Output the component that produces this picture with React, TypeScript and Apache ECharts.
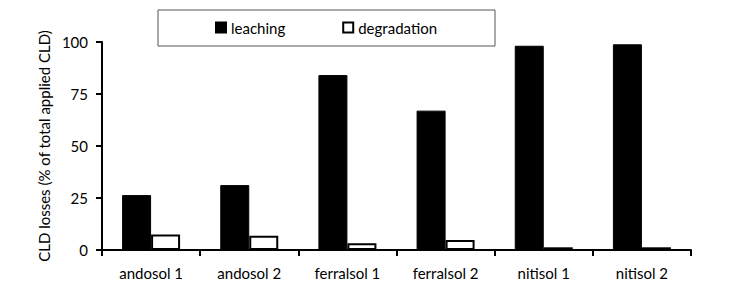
import React, { useEffect, useRef } from "react";
import * as echarts from "echarts";

const categories = ["andosol 1", "andosol 2", "ferralsol 1", "ferralsol 2", "nitisol 1", "nitisol 2"];
const leaching = [26.4, 31.2, 84.1, 67.0, 98.2, 98.9];
const degradation = [7.4, 6.9, 3.2, 4.8, 1.3, 1.3];
const yTicks = [0, 25, 50, 75, 100];

const FONT = "Lato, 'Open Sans', sans-serif";

export default function App() {
  const ref = useRef<HTMLDivElement>(null);
  useEffect(() => {
    if (!ref.current) return;
    const chart = echarts.init(ref.current, null, { renderer: "svg" });
    chart.setOption({
      animation: false,
      backgroundColor: "#ffffff",
      grid: { left: 102, right: 61, top: 42, bottom: 53 },
      legend: {
        left: 158,
        top: 10,
        padding: [10, 58, 11, 57],
        itemWidth: 10,
        itemHeight: 10,
        itemGap: 57,
        borderColor: "#555",
        borderWidth: 1,
        textStyle: { fontFamily: FONT, fontSize: 15, color: "#000" },
        data: [
          { name: "leaching", icon: "rect" },
          { name: "degradation", icon: "rect" },
        ],
      },
      xAxis: {
        type: "category",
        data: categories,
        boundaryGap: true,
        axisLine: { lineStyle: { color: "#000", width: 2 } },
        axisTick: { show: true, alignWithLabel: false, length: 6, lineStyle: { color: "#000", width: 2 } },
        axisLabel: { fontFamily: FONT, fontSize: 15, color: "#000", margin: 15, interval: 0 },
      },
      yAxis: {
        type: "value",
        min: 0,
        max: 100,
        interval: 25,
        name: "CLD losses (% of total applied CLD)",
        nameLocation: "middle",
        nameGap: 50,
        nameTextStyle: { fontFamily: FONT, fontSize: 15, color: "#000" },
        splitLine: { show: false },
        axisLine: { show: true, lineStyle: { color: "#000", width: 2 } },
        axisTick: { show: true, length: 6, lineStyle: { color: "#000", width: 2 } },
        axisLabel: {
          fontFamily: FONT,
          fontSize: 15,
          color: "#000",
          margin: 14,
          formatter: (v: number) => (yTicks.includes(v) ? String(v) : ""),
        },
      },
      series: [
        {
          name: "leaching",
          type: "bar",
          data: leaching,
          barWidth: 29,
          barGap: "0%",
          itemStyle: { color: "#000", borderColor: "#000", borderWidth: 1 },
        },
        {
          name: "degradation",
          type: "bar",
          data: degradation,
          barWidth: 29,
          itemStyle: { color: "#fff", borderColor: "#000", borderWidth: 2 },
        },
      ],
    });
    return () => chart.dispose();
  }, []);
  return <div ref={ref} style={{ width: 752, height: 303, position: "absolute", left: 0, top: 0 }} />;
}
